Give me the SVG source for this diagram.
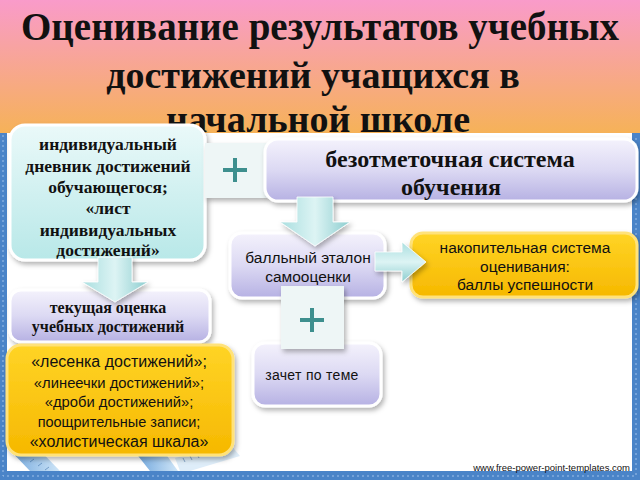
<svg xmlns="http://www.w3.org/2000/svg" width="640" height="480" viewBox="0 0 640 480">
<defs>
<linearGradient id="gTitle" x1="0" y1="0" x2="0" y2="1">
<stop offset="0" stop-color="#F99BCA"/><stop offset="1" stop-color="#F6B258"/>
</linearGradient>
<linearGradient id="gLav" x1="0" y1="0" x2="0" y2="1">
<stop offset="0" stop-color="#F4F2FC"/><stop offset="0.5" stop-color="#DCD9F3"/><stop offset="1" stop-color="#B6B1E3"/>
</linearGradient>
<linearGradient id="gCyan" x1="0" y1="0" x2="0" y2="1">
<stop offset="0" stop-color="#EAF9F9"/><stop offset="1" stop-color="#B8E8E8"/>
</linearGradient>
<linearGradient id="gYel" x1="0" y1="0" x2="0" y2="1">
<stop offset="0" stop-color="#FFD426"/><stop offset="1" stop-color="#F6B800"/>
</linearGradient>
<linearGradient id="gArrV" x1="0" y1="0" x2="1" y2="0">
<stop offset="0" stop-color="#A9DEDF"/><stop offset="0.5" stop-color="#DDF4F4"/><stop offset="1" stop-color="#8CCDCF"/>
</linearGradient>
<linearGradient id="gArrH" x1="0" y1="0" x2="0" y2="1">
<stop offset="0" stop-color="#A9DEDF"/><stop offset="0.5" stop-color="#DDF4F4"/><stop offset="1" stop-color="#8CCDCF"/>
</linearGradient>
<linearGradient id="gRul" x1="0" y1="0" x2="1" y2="0">
<stop offset="0" stop-color="#3D86D0"/><stop offset="1" stop-color="#BFDDF5"/>
</linearGradient>
<filter id="sh" x="-10%" y="-10%" width="125%" height="130%">
<feDropShadow dx="2" dy="3" stdDeviation="2.5" flood-color="#000" flood-opacity="0.3"/>
</filter>
</defs>
<style>
.node{stroke:#FFFFFF;stroke-width:3;filter:url(#sh)}
.lav{fill:url(#gLav)}
.cyan{fill:url(#gCyan)}
.yel{fill:url(#gYel);stroke:#FFE27A}
.plusbox{fill:#EEF6F6;filter:url(#sh)}
.plus{stroke:#3E8F8E;stroke-width:4;fill:none}
.serifb{font-family:"Liberation Serif","Times New Roman",serif;font-weight:bold;fill:#111;text-anchor:middle}
.sans{font-family:"Liberation Sans",Arial,sans-serif;fill:#111;text-anchor:middle}
.arrow{stroke:#FFFFFF;stroke-width:0.8;filter:url(#sh)}
.fr{fill:#4A84C8}
.frl{fill:none;stroke:#9EC0E8;stroke-width:1;stroke-dasharray:2 3}
.rul{fill:url(#gRul);opacity:0.75}
.tick{stroke:#2A5E9A;stroke-width:0.8;opacity:0.6}
</style>
<rect width="640" height="480" fill="#FFFFFF"/>
<g id="rulers">
<polygon class="rul" points="8,448 30,440 60,471 30,471"/>
<polygon class="rul" points="135,452 160,446 178,471 150,471"/>
<polygon points="175,458 230,444 240,456 190,471 180,471" fill="#D6E8F7" opacity="0.8"/>
<path class="tick" d="M185,462l-2,-4M192,460l-2,-4M199,458l-2,-4M206,456l-2,-4M213,454l-2,-4M220,452l-2,-4M30,462l4,-3M38,466l4,-3M45,470l4,-3"/>
</g>
<g id="frame">
<rect class="fr" x="0" y="130" width="7" height="350"/>
<rect class="fr" x="632" y="130" width="8" height="350"/>
<rect class="fr" x="0" y="471" width="640" height="9"/>
<path class="frl" d="M3,135V476H636V135"/>
</g>
<g id="title">
<rect x="0" y="0" width="640" height="133" fill="url(#gTitle)"/>
<text class="serifb" font-size="39" x="320" y="40" textLength="598" lengthAdjust="spacingAndGlyphs">Оценивание результатов учебных</text>
<text class="serifb" font-size="38" x="313" y="88">достижений учащихся в</text>
<text class="serifb" font-size="38" x="318" y="132">начальной школе</text>
</g>
<g id="node-diary">
<rect class="node cyan" x="10" y="125" width="195" height="135" rx="15"/>
<text class="serifb" font-size="17.5" x="108" y="150">индивидуальный</text>
<text class="serifb" font-size="17.5" x="108" y="172">дневник достижений</text>
<text class="serifb" font-size="17.5" x="108" y="193">обучающегося;</text>
<text class="serifb" font-size="17.5" x="108" y="214">«лист</text>
<text class="serifb" font-size="17.5" x="108" y="236">индивидуальных</text>
<text class="serifb" font-size="17.5" x="108" y="256">достижений»</text>
</g>
<g id="plus-1">
<rect class="plusbox" x="205" y="143" width="62" height="55"/>
<path class="plus" d="M223,170H247M235,158V182"/>
</g>
<g id="node-nomark">
<rect class="node lav" x="265" y="139" width="372" height="62" rx="13"/>
<text class="serifb" font-size="24" x="450" y="167">безотметочная система</text>
<text class="serifb" font-size="24" x="451" y="195">обучения</text>
</g>
<g id="node-scale">
<rect class="node lav" x="230" y="233" width="155" height="65" rx="12"/>
<text class="sans" font-size="15.5" x="308" y="263">балльный эталон</text>
<text class="sans" font-size="15.5" x="308" y="282">самооценки</text>
</g>
<g id="node-cumul">
<rect class="node yel" x="411" y="233" width="226" height="64" rx="12"/>
<text class="sans" font-size="15.5" x="525" y="253">накопительная система</text>
<text class="sans" font-size="15.5" x="525" y="272">оценивания:</text>
<text class="sans" font-size="15.5" x="525" y="290">баллы успешности</text>
</g>
<g id="node-current">
<rect class="node lav" x="10" y="290" width="200" height="52" rx="11"/>
<text class="serifb" font-size="16" x="108" y="313">текущая оценка</text>
<text class="serifb" font-size="16" x="108" y="332">учебных достижений</text>
</g>
<g id="node-topic">
<rect class="node lav" x="253" y="343" width="128" height="63" rx="12"/>
<text class="sans" font-size="14" x="312" y="380" letter-spacing="0.3">зачет по теме</text>
</g>
<g id="plus-2">
<rect class="plusbox" x="281" y="286" width="63" height="63"/>
<path class="plus" d="M300,320H324M312,308V332"/>
</g>
<g id="node-tools">
<rect class="node yel" x="7" y="345" width="226" height="110" rx="14"/>
<text class="sans" font-size="16" x="119" y="367">«лесенка достижений»;</text>
<text class="sans" font-size="14.8" x="119" y="388">«линеечки достижений»;</text>
<text class="sans" font-size="14.8" x="119" y="407">«дроби достижений»;</text>
<text class="sans" font-size="14.5" x="119" y="427">поощрительные записи;</text>
<text class="sans" font-size="16" x="119" y="447">«холистическая шкала»</text>
</g>
<g id="connectors">
<polygon class="arrow" fill="url(#gArrV)" points="297,197 333,197 333,222 350,222 315,246 280,222 297,222"/>
<polygon class="arrow" fill="url(#gArrV)" points="98,257 132,257 132,282 148,282 115,302 82,282 98,282"/>
<polygon class="arrow" fill="url(#gArrH)" points="375,252 402,252 402,242 426,262 402,282 402,271 375,271"/>
</g>
<text x="630" y="471" font-family="Liberation Sans,Arial,sans-serif" font-size="9.5" text-anchor="end" fill="#111">www.free-power-point-templates.com</text>
</svg>
